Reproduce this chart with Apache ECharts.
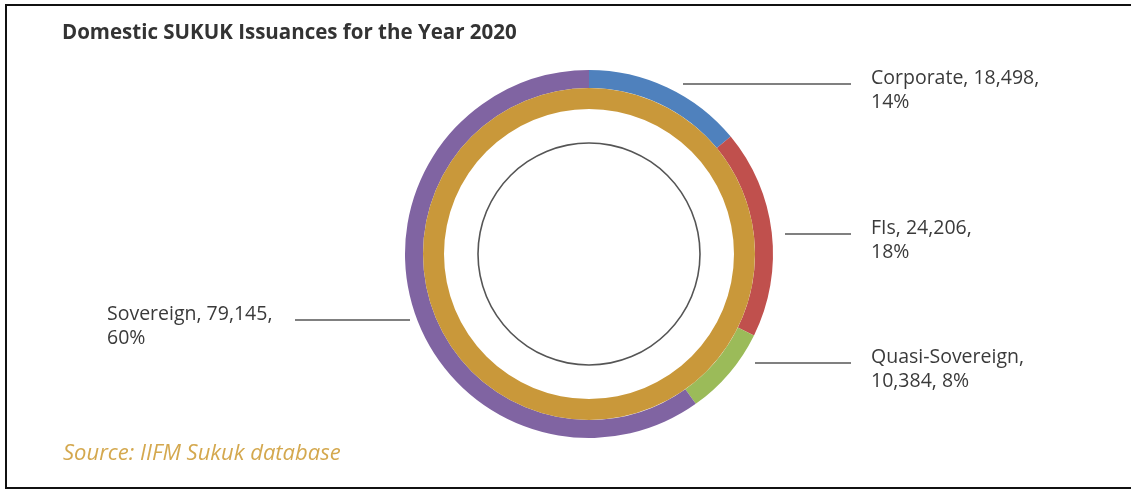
<!DOCTYPE html>
<html>
<head>
<meta charset="utf-8">
<script src="https://cdn.jsdelivr.net/npm/echarts@6/dist/echarts.min.js"></script>
<style>
  html, body { margin: 0; padding: 0; background: #ffffff; }
  #chart { width: 1131px; height: 491px; }
</style>
</head>
<body>
<div id="chart"></div>
<script>
// ---- data ----
const categories = ['Corporate', 'FIs', 'Quasi-Sovereign', 'Sovereign'];
const issuance = [18498, 24206, 10384, 79145];
const sliceColors = ['#4F81BD', '#C0504D', '#9BBB59', '#8064A2'];
const titleText = 'Domestic SUKUK Issuances for the Year 2020';
const sourceText = 'Source: IIFM Sukuk database';

// ---- label placement (layout only) ----
const labelSpec = [
  { side: 'right', lineY: 84,  lineX0: 683, lineX1: 851 },
  { side: 'right', lineY: 234, lineX0: 785, lineX1: 851 },
  { side: 'right', lineY: 363, lineX0: 755, lineX1: 851 },
  { side: 'left',  lineY: 320, lineX0: 295, lineX1: 410 }
];
const rightTextX = 871;
const leftTextX = 107;

const FONT = '"Open Sans", "Noto Sans", sans-serif';
const total = issuance.reduce((a, b) => a + b, 0);

function fmt(n) { return n.toLocaleString('en-US'); }

const chart = echarts.init(document.getElementById('chart'), null, { renderer: 'canvas' });

const option = {
  backgroundColor: '#ffffff',
  animation: false,
  title: [
    {
      text: titleText,
      left: 57, top: 18,
      textStyle: { fontFamily: FONT, fontSize: 20.5, fontWeight: 'bold', color: '#333333' }
    },
    {
      text: sourceText,
      left: 58, top: 438,
      textStyle: { fontFamily: FONT, fontSize: 22, fontWeight: 'normal', fontStyle: 'italic', color: '#D4A84E' }
    }
  ],
  graphic: [
    {
      type: 'polyline',
      silent: true,
      shape: { points: [[1131, 5], [6, 5], [6, 488], [1131, 488]] },
      style: { stroke: '#111111', lineWidth: 2, fill: null }
    }
  ],
  series: [
    {
      type: 'pie',
      center: [589, 254],
      radius: [166, 184],
      startAngle: 90,
      clockwise: true,
      silent: true,
      avoidLabelOverlap: false,
      percentPrecision: 0,
      data: categories.map((c, i) => ({ name: c, value: issuance[i], itemStyle: { color: sliceColors[i] } })),
      label: {
        show: true,
        position: 'outside',
        fontFamily: FONT,
        fontSize: 19.5,
        lineHeight: 24,
        color: '#3a3a3a',
        formatter: function (p) {
          const first = p.name + ', ' + fmt(p.value) + ',';
          if (first.length > 18) {
            return p.name + ',\n' + fmt(p.value) + ', ' + p.percent + '%';
          }
          return first + '\n' + p.percent + '%';
        }
      },
      labelLine: {
        show: true,
        length: 10,
        length2: 10,
        lineStyle: { color: '#808080', width: 1.8 }
      },
      labelLayout: function (params) {
        const s = labelSpec[params.dataIndex];
        const mid = (s.lineX0 + s.lineX1) / 2;
        return {
          x: s.side === 'right' ? rightTextX : leftTextX,
          y: s.lineY - 18,
          align: 'left',
          verticalAlign: 'top',
          labelLinePoints: [[s.lineX0, s.lineY], [mid, s.lineY], [s.lineX1, s.lineY]]
        };
      }
    },
    {
      type: 'pie',
      center: [589, 254],
      radius: [145, 166],
      silent: true,
      label: { show: false },
      labelLine: { show: false },
      data: [{ name: 'Total', value: total, itemStyle: { color: '#C9983A' } }]
    },
    {
      type: 'pie',
      center: [589, 254],
      radius: [110.2, 111.8],
      silent: true,
      label: { show: false },
      labelLine: { show: false },
      data: [{ name: 'Inner', value: total, itemStyle: { color: '#555555' } }]
    }
  ]
};

chart.setOption(option);
</script>
</body>
</html>
